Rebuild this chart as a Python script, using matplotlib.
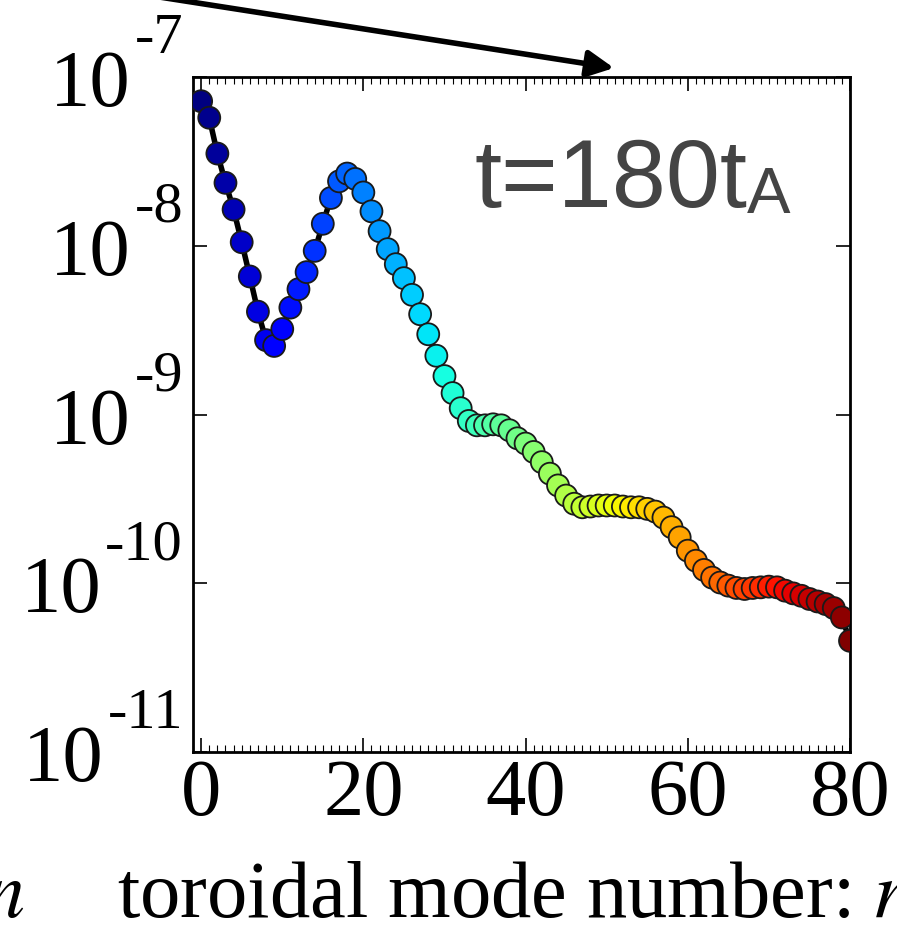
import numpy as np
import matplotlib
matplotlib.use('Agg')
from matplotlib import pyplot as plt
from matplotlib.ticker import MultipleLocator, LogLocator, NullFormatter

plt.rcParams['font.family'] = 'Liberation Serif'
plt.rcParams['mathtext.fontset'] = 'stix'

# toroidal mode numbers and their amplitudes at t = 180 tA
n = np.arange(0, 81)
amp = [7.19e-8, 5.74e-8, 3.52e-8, 2.36e-8, 1.64e-8, 1.05e-8, 6.58e-9, 4.07e-9, 2.76e-9, 2.55e-9,
       3.21e-9, 4.30e-9, 5.53e-9, 6.98e-9, 9.33e-9, 1.35e-8, 1.92e-8, 2.41e-8, 2.68e-8, 2.49e-8,
       2.07e-8, 1.60e-8, 1.22e-8, 9.55e-9, 7.78e-9, 6.43e-9, 5.12e-9, 3.93e-9, 2.99e-9, 2.23e-9,
       1.69e-9, 1.34e-9, 1.09e-9, 9.16e-10, 8.63e-10, 8.63e-10, 8.75e-10, 8.63e-10, 8.07e-10, 7.23e-10,
       6.73e-10, 6.00e-10, 5.22e-10, 4.46e-10, 3.80e-10, 3.31e-10, 2.96e-10, 2.82e-10, 2.85e-10, 2.89e-10,
       2.89e-10, 2.89e-10, 2.85e-10, 2.82e-10, 2.82e-10, 2.76e-10, 2.66e-10, 2.45e-10, 2.15e-10, 1.87e-10,
       1.56e-10, 1.36e-10, 1.20e-10, 1.08e-10, 1.01e-10, 9.68e-11, 9.38e-11, 9.25e-11, 9.38e-11, 9.46e-11,
       9.55e-11, 9.46e-11, 9.04e-11, 8.71e-11, 8.43e-11, 8.07e-11, 7.80e-11, 7.53e-11, 7.13e-11, 6.27e-11,
       4.56e-11]
yticks = [1e-11, 1e-10, 1e-9, 1e-8, 1e-7]
yexps = ['-11', '-10', '-9', '-8', '-7']
xticks = [0, 20, 40, 60, 80]

fig = plt.figure(figsize=(8.97, 9.26), dpi=100)
ax = fig.add_axes([0.2152, 0.1879, 0.7324, 0.7289])

ax.plot(n, amp, color='k', lw=4, zorder=2)
ax.scatter(n, amp, c=n, cmap='jet', vmin=0, vmax=80, s=250,
           edgecolors='#1a1a1a', linewidths=1.3, zorder=3)

ax.set_yscale('log')
ax.set_xlim(-1, 80)
ax.set_ylim(1e-11, 1e-7)
ax.set_xticks(xticks)
ax.set_xticklabels([str(v) for v in xticks])
ax.xaxis.set_minor_locator(MultipleLocator(1))
ax.set_yticks(yticks)
ax.set_yticklabels([])
ax.yaxis.set_minor_locator(LogLocator(base=10, subs=np.arange(2, 10)))
ax.yaxis.set_minor_formatter(NullFormatter())

for s in ax.spines.values():
    s.set_linewidth(2)
ax.tick_params(which='both', direction='in', top=True, right=True, labelsize=58)
ax.tick_params(which='major', length=10, width=1.2)
ax.tick_params(which='minor', length=5, width=0.8)
ax.tick_params(axis='x', pad=5)

# y labels written as "10" with a raised exponent
for v, e in zip(yticks, yexps):
    ex = ax.annotate(e, xy=(0, v), xycoords=ax.get_yaxis_transform(), xytext=(-10, 24),
                     textcoords='offset pixels', ha='right', va='baseline', fontsize=42)
    ax.annotate('10', xy=(0, v), xycoords=(ex, ax.get_yaxis_transform()), xytext=(-4, -29),
                textcoords='offset pixels', ha='right', va='baseline', fontsize=58)

# time stamp, subscript drawn as its own text next to it
t1 = ax.text(0.428, 0.807, 't=180t', transform=ax.transAxes, family='Liberation Sans',
             fontsize=70, color='#444444', va='baseline', ha='left')
ax.annotate('A', xy=(1, 0), xycoords=t1, xytext=(0, 1), textcoords='offset points',
            family='Liberation Sans', fontsize=47, color='#444444', va='bottom', ha='left')

# pointer arrow coming in from the upper left
ax.annotate('', xy=(614 / 897, 1 - 68 / 926), xytext=(140 / 897, 1.0 + 6 / 926),
            xycoords='figure fraction', textcoords='figure fraction',
            arrowprops=dict(arrowstyle='-|>', lw=4, color='k', mutation_scale=40,
                            shrinkA=0, shrinkB=0))

fig.text(117 / 897, 9 / 926, 'toroidal mode number: $n$', fontsize=58, va='baseline', ha='left')
fig.text(-16 / 897, 9 / 926, '$n$', fontsize=58, va='baseline', ha='left')

fig.savefig('out.png', dpi=100)
